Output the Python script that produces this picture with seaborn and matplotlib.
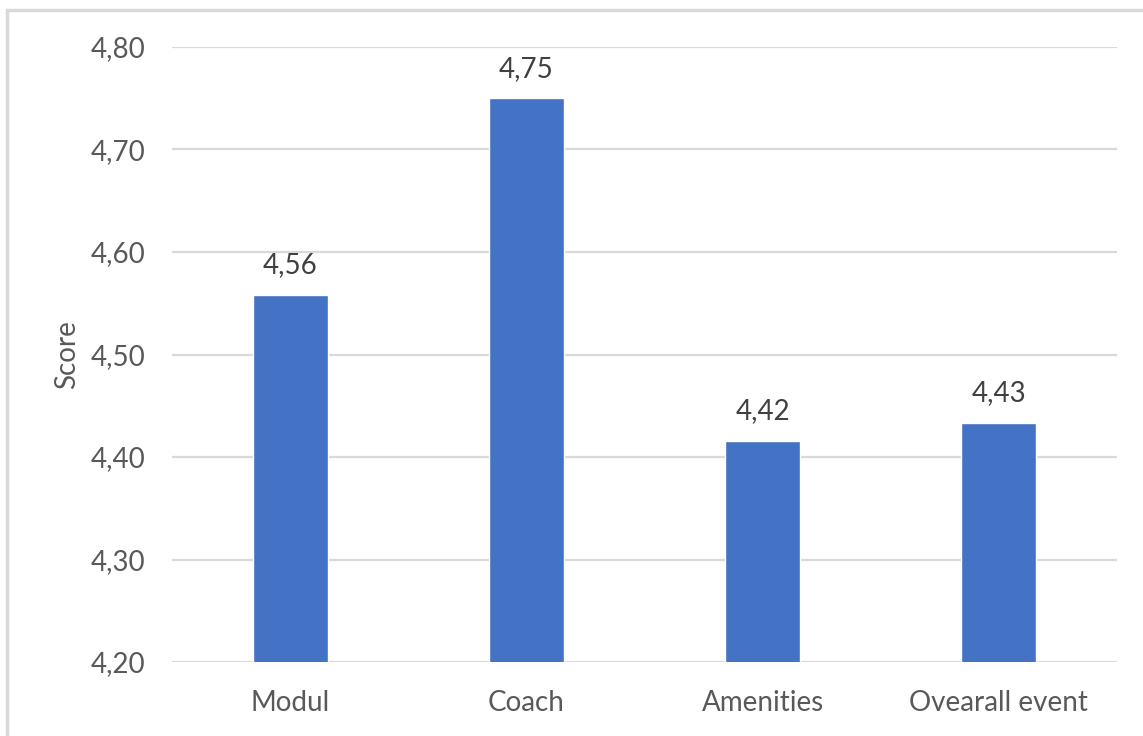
import matplotlib
matplotlib.use("Agg")
import matplotlib.pyplot as plt
import seaborn as sns
import pandas as pd
from matplotlib.patches import Rectangle
from matplotlib.ticker import FuncFormatter

categories = ["Modul", "Coach", "Amenities", "Ovearall event"]
scores = [4.558, 4.75, 4.416, 4.433]
y_ticks = [4.20, 4.30, 4.40, 4.50, 4.60, 4.70, 4.80]

sns.set_theme(style="white")
plt.rcParams['font.family'] = ['Lato', 'DejaVu Sans']

df = pd.DataFrame({"cat": categories, "score": scores})

fig = plt.figure(figsize=(11.43, 7.36), dpi=100)
ax = fig.add_axes([172/1143, 1-662/736, (1117-172)/1143, (662-47)/736])

sns.barplot(data=df, x="cat", y="score", color="#4472C4", width=0.317,
            saturation=1, ax=ax, zorder=3)

ax.set_ylim(4.20, 4.80)
ax.set_yticks(y_ticks)
ax.yaxis.set_major_formatter(FuncFormatter(lambda v, p: f"{v:.2f}".replace(".", ",")))
ax.grid(axis="y", color="#d9d9d9", linewidth=1.6, zorder=0)
ax.grid(axis="x", visible=False)
for s in ax.spines.values():
    s.set_visible(False)

ax.tick_params(axis="y", length=0, pad=19, labelsize=20, labelcolor="#595959")
ax.tick_params(axis="x", length=0, pad=20, labelsize=20, labelcolor="#595959")
ax.set_xlabel("")
ax.set_ylabel("Score", fontsize=20, color="#595959", labelpad=8)

for i, v in enumerate(scores):
    ax.annotate(f"{v:.2f}".replace(".", ","), (i, v), xytext=(0, 12),
                textcoords="offset points", ha="center", va="bottom",
                fontsize=20, color="#404040")

fig.patches.append(Rectangle((7/1143, -0.5), 2.0, 0.5 + 1 - 10/736,
                             transform=fig.transFigure, fill=False,
                             edgecolor="#d9d9d9", linewidth=2.5))

fig.savefig("out.png", dpi=100, facecolor="white")
